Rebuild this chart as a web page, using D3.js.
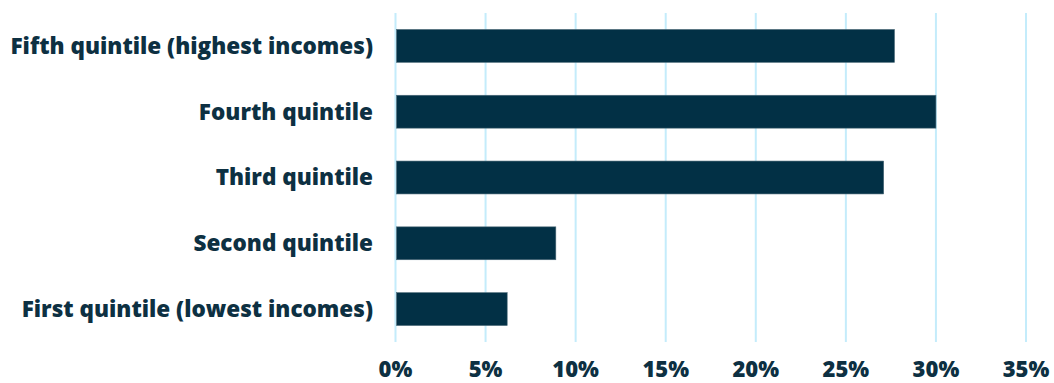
<!DOCTYPE html>
<html>
<head>
<meta charset="utf-8">
<script src="https://cdn.jsdelivr.net/npm/d3@7"></script>
<style>
  body { margin: 0; background: #fff; }
  text { font-family: "Open Sans", Lato, sans-serif; font-weight: 800; fill: #0d3042; }
</style>
</head>
<body>
<svg id="chart"></svg>
<script>
const categories = [
  'Fifth quintile (highest incomes)',
  'Fourth quintile',
  'Third quintile',
  'Second quintile',
  'First quintile (lowest incomes)'
];
const shares = [27.7, 30.0, 27.1, 8.9, 6.2];
const ticks = [0, 5, 10, 15, 20, 25, 30, 35];

const width = 1054, height = 383;
const margin = { top: 13, right: 28, bottom: 41, left: 395.5 };

const svg = d3.select('#chart')
  .attr('width', width)
  .attr('height', height);

const x = d3.scaleLinear()
  .domain([0, 35])
  .range([margin.left, width - margin.right]);

const y = d3.scaleBand()
  .domain(categories)
  .range([margin.top, height - margin.bottom])
  .paddingInner(0.5)
  .paddingOuter(0.25);

// grid lines
svg.append('g')
  .selectAll('line')
  .data(ticks)
  .join('line')
  .attr('x1', d => x(d))
  .attr('x2', d => x(d))
  .attr('y1', margin.top)
  .attr('y2', height - margin.bottom)
  .attr('stroke', '#c4ecfb')
  .attr('stroke-width', 2);

// bars
svg.append('g')
  .selectAll('rect')
  .data(shares)
  .join('rect')
  .attr('x', x(0) + 1)
  .attr('y', (d, i) => y(categories[i]))
  .attr('width', d => x(d) - x(0) - 1)
  .attr('height', y.bandwidth())
  .attr('fill', '#023045')
  .attr('stroke', '#4d6a78')
  .attr('stroke-width', 0.6);

// category labels
svg.append('g')
  .selectAll('text')
  .data(categories)
  .join('text')
  .attr('x', 373)
  .attr('y', d => y(d) + y.bandwidth() / 2)
  .attr('dy', '0.35em')
  .attr('text-anchor', 'end')
  .attr('font-size', 22.5)
  .text(d => d);

// x axis labels
svg.append('g')
  .selectAll('text')
  .data(ticks)
  .join('text')
  .attr('x', d => x(d))
  .attr('y', 377)
  .attr('text-anchor', 'middle')
  .attr('font-size', 22)
  .text(d => d + '%');
</script>
</body>
</html>
